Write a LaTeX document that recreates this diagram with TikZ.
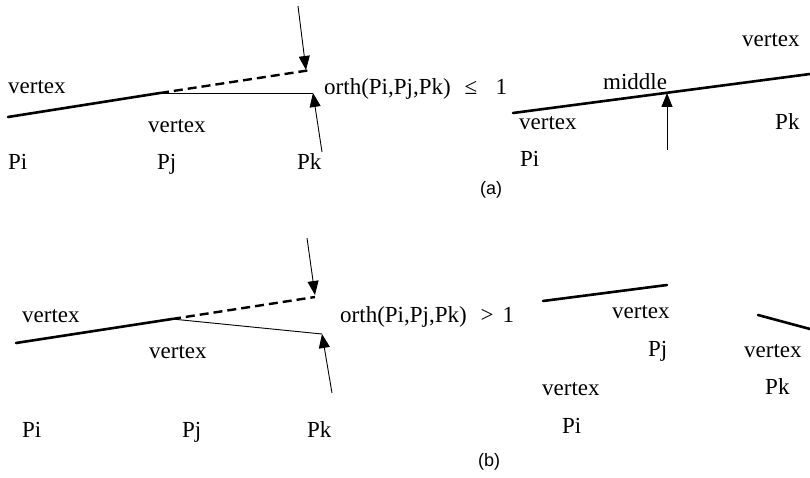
\documentclass[tikz,border=0pt]{standalone}
\usepackage{fontspec}
\setmainfont{Liberation Serif}
\newfontfamily\capfont{Liberation Sans}
\usetikzlibrary{arrows.meta}
\begin{document}
\begin{tikzpicture}[x=1pt,y=-1pt,
  lbl/.style={anchor=base west,inner sep=0pt,font=\fontsize{23}{26}\selectfont},
  figcap/.style={anchor=base west,inner sep=0pt,font=\capfont\fontsize{18}{20}\selectfont},
  seg/.style={line width=2.6pt,line cap=round},
  dseg/.style={line width=2.4pt,dash pattern=on 9pt off 5pt},
  thin/.style={line width=0.9pt},
  arr/.style={line width=0.9pt,-{Triangle[length=14pt,width=11pt]}}]
\useasboundingbox (0,0) rectangle (810,478);
% ---------- (a) left ----------
\coordinate (a1) at (8,117);
\coordinate (a2) at (160,93);
\coordinate (a3) at (311,70);
\coordinate (a4) at (313,93);
\coordinate (aT) at (298,6);
\coordinate (aB) at (322,152);
\draw[seg] (a1) -- (a2);
\draw[dseg] (a2) -- (a3);
\draw[thin] (a2) -- (a4);
\draw[arr] (aT) -- (306,70);
\draw[arr] (aB) -- (a4);
\node[lbl] (av1) at (8,94) {vertex};
\node[lbl] (av2) at (148,133) {vertex};
\node[lbl] (api) at (8,170) {Pi};
\node[lbl] (apj) at (157,170) {Pj};
\node[lbl] (apk) at (297,170) {Pk};
\node[lbl] (aorth) at (324,95) {orth(Pi,Pj,Pk)\hspace{0.6em}≤\hspace{0.8em}1};
% ---------- (a) right ----------
\coordinate (ar1) at (513,113);
\coordinate (ar2) at (810,74);
\coordinate (arm) at (667,93);
\coordinate (arB) at (667,150);
\draw[seg] (ar1) -- (ar2);
\draw[arr] (arB) -- (arm);
\node[lbl] (amid) at (603,90) {middle};
\node[lbl] (arv1) at (519,130) {vertex};
\node[lbl] (arpi) at (520,167) {Pi};
\node[lbl] (arv2) at (742,47) {vertex};
\node[lbl] (arpk) at (775,130) {Pk};
\node[figcap] (capa) at (480,195) {(a)};
% ---------- (b) left ----------
\coordinate (b1) at (16,343);
\coordinate (b2) at (172,319);
\coordinate (b3) at (315,297);
\coordinate (b4) at (322,334);
\coordinate (bT) at (307,238);
\coordinate (bB) at (332,393);
\draw[seg] (b1) -- (b2);
\draw[dseg] (b2) -- (b3);
\draw[thin] (b2) -- (b4);
\draw[arr] (bT) -- (315,295);
\draw[arr] (bB) -- (b4);
\node[lbl] (bv1) at (22,322) {vertex};
\node[lbl] (bv2) at (149,358) {vertex};
\node[lbl] (bpi) at (22,437) {Pi};
\node[lbl] (bpj) at (182,437) {Pj};
\node[lbl] (bpk) at (307,437) {Pk};
\node[lbl] (borth) at (340,322) {orth(Pi,Pj,Pk)\hspace{0.6em}>\hspace{0.4em}1};
% ---------- (b) right ----------
\coordinate (br1) at (543,301);
\coordinate (br2) at (667,285);
\coordinate (br3) at (758,315);
\coordinate (br4) at (810,329);
\draw[seg] (br1) -- (br2);
\draw[seg] (br3) -- (br4);
\node[lbl] (brv1) at (612,318) {vertex};
\node[lbl] (brpj) at (648,356) {Pj};
\node[lbl] (brv2) at (744,357) {vertex};
\node[lbl] (brpk) at (765,394) {Pk};
\node[lbl] (brv3) at (542,395) {vertex};
\node[lbl] (brpi) at (562,433) {Pi};
\node[figcap] (capb) at (478,466) {(b)};
\end{tikzpicture}
\end{document}
